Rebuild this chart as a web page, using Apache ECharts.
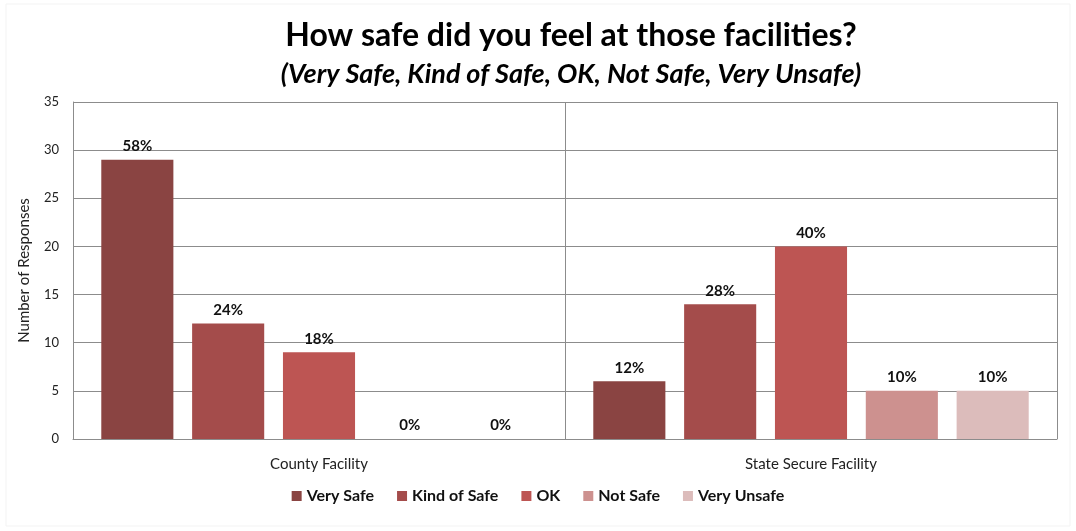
<!DOCTYPE html>
<html>
<head>
<meta charset="utf-8">
<script src="https://cdn.jsdelivr.net/npm/echarts@6/dist/echarts.min.js"></script>
<style>
  html, body { margin: 0; padding: 0; background: #fff; }
  #chart { width: 1076px; height: 531px; }
</style>
</head>
<body>
<div id="chart"></div>
<script>
// facilities on the x axis
var categories = ['County Facility', 'State Secure Facility'];
// one series per answer
var seriesNames = ['Very Safe', 'Kind of Safe', 'OK', 'Not Safe', 'Very Unsafe'];
var seriesColors = ['#8a4442', '#a44c4b', '#bd5553', '#cd918f', '#dcbcbb'];
// number of responses, [county, state]
var verySafe = [29, 6];
var kindOfSafe = [12, 14];
var okay = [9, 20];
var notSafe = [0, 5];
var veryUnsafe = [0, 5];
// percentage labels printed above the bars
var verySafePct = ['58%', '12%'];
var kindOfSafePct = ['24%', '28%'];
var okayPct = ['18%', '40%'];
var notSafePct = ['0%', '10%'];
var veryUnsafePct = ['0%', '10%'];

var values = [verySafe, kindOfSafe, okay, notSafe, veryUnsafe];
var pcts = [verySafePct, kindOfSafePct, okayPct, notSafePct, veryUnsafePct];
var font = 'Lato, "Open Sans", sans-serif';

var chart = echarts.init(document.getElementById('chart'));

var series = seriesNames.map(function (name, i) {
    return {
        name: name,
        type: 'bar',
        data: values[i],
        barGap: '26%',
        barCategoryGap: '11.5%',
        itemStyle: { color: seriesColors[i] },
        label: {
            show: true,
            position: 'top',
            distance: 6,
            color: '#111',
            fontFamily: font,
            fontWeight: 'bold',
            fontSize: 15,
            formatter: function (p) { return pcts[i][p.dataIndex]; }
        }
    };
});

chart.setOption({
    animation: false,
    backgroundColor: '#fff',
    title: [{
        text: 'How safe did you feel at those facilities?',
        left: 566,
        top: 15,
        textAlign: 'center',
        textStyle: { fontFamily: font, fontWeight: 'bold', fontSize: 32, color: '#000' }
    }, {
        text: '(Very Safe, Kind of Safe, OK, Not Safe, Very Unsafe)',
        left: 566,
        top: 56,
        textAlign: 'center',
        textStyle: { fontFamily: font, fontWeight: 'bold', fontStyle: 'italic', fontSize: 27, color: '#000' }
    }],
    legend: {
        bottom: 22,
        left: 'center',
        itemWidth: 10,
        itemHeight: 10,
        itemGap: 23,
        icon: 'rect',
        textStyle: { fontFamily: font, fontWeight: 'bold', fontSize: 16, color: '#111' },
        data: seriesNames
    },
    grid: { left: 73, right: 19, top: 102, bottom: 92 },
    xAxis: {
        type: 'category',
        data: categories,
        axisLine: { lineStyle: { color: '#8c8c8c', width: 1 } },
        axisTick: { show: false },
        splitLine: { show: true, lineStyle: { color: '#8c8c8c' } },
        axisLabel: { margin: 18, color: '#222', fontFamily: font, fontSize: 15 }
    },
    yAxis: {
        type: 'value',
        min: 0,
        max: 35,
        interval: 5,
        name: 'Number of Responses',
        nameLocation: 'middle',
        nameGap: 41,
        nameTextStyle: { color: '#222', fontFamily: font, fontSize: 15 },
        axisLine: { show: true, lineStyle: { color: '#8c8c8c' } },
        axisTick: { show: false },
        splitLine: { lineStyle: { color: '#8c8c8c' } },
        axisLabel: { margin: 14, color: '#222', fontFamily: font, fontSize: 13 }
    },
    graphic: [{
        type: 'rect',
        shape: { x: 6, y: 4, width: 1064, height: 522 },
        style: { fill: 'none', stroke: '#f3f3f3', lineWidth: 1 },
        silent: true
    }],
    series: series
});
</script>
</body>
</html>
